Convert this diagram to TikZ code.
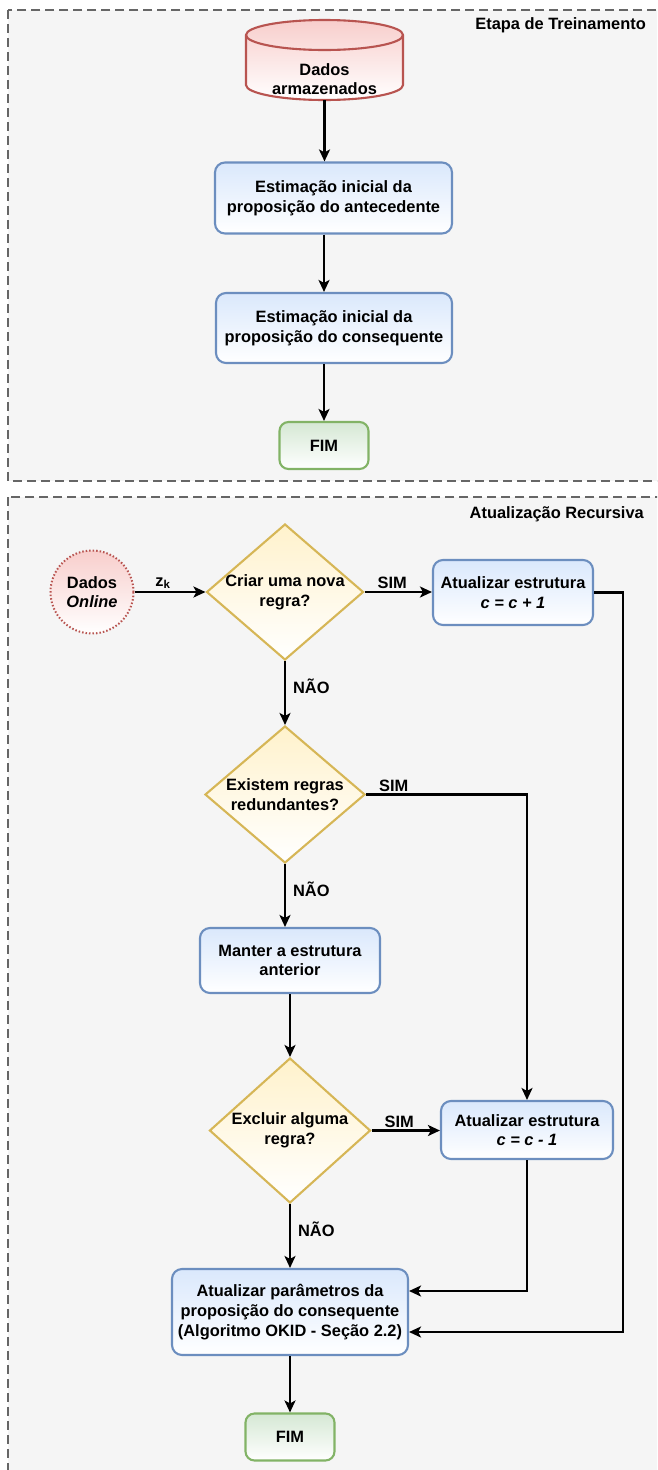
\documentclass[tikz,border=0pt]{standalone}
\usepackage{fontspec}
\setmainfont{Liberation Sans}
\usetikzlibrary{arrows.meta, shapes.geometric, calc}

\definecolor{azulf}{HTML}{DAE8FC}
\definecolor{azulb}{HTML}{6C8EBF}
\definecolor{verdef}{HTML}{D5E8D4}
\definecolor{verdeb}{HTML}{82B366}
\definecolor{amarf}{HTML}{FFF2CC}
\definecolor{amarb}{HTML}{D6B656}
\definecolor{vermf}{HTML}{F8CECC}
\definecolor{vermb}{HTML}{B85450}
\definecolor{fundo}{HTML}{F5F5F5}
\definecolor{borda}{HTML}{666666}

\tikzset{
  texto/.style={font=\fontsize{16.4}{19.7}\selectfont\bfseries, align=center},
  caixa/.style={texto, rectangle, rounded corners=10pt, draw=azulb, line width=2.1pt, top color=azulf, bottom color=white},
  fim/.style={texto, rectangle, rounded corners=9pt, draw=verdeb, line width=2.1pt, top color=verdef, bottom color=white, minimum width=89pt, minimum height=47pt},
  decisao/.style={diamond, draw=amarb, line width=2.1pt, top color=amarf, bottom color=white, inner sep=0pt},
  seta/.style={-{Stealth[length=12pt,width=11pt,inset=3pt]}, line width=2.3pt},
  etapa/.style={draw=borda, fill=fundo, line width=2pt, dash pattern=on 9pt off 5pt},
  rotulo/.style={texto, inner sep=2pt},
}

\begin{document}
\begin{tikzpicture}[x=1pt,y=-1pt]
    \clip (0,0) rectangle (657,1470);
    % etapas
    \path[etapa] (8,10) rectangle (680,481);
    \path[etapa] (8,497) rectangle (680,1490);
    \node[rotulo, anchor=east] (treino) at (648,25) {Etapa de Treinamento};
    \node[rotulo, anchor=east] (recursiva) at (646,514) {Atualização Recursiva};

    % treinamento
    \path[draw=vermb, line width=2.1pt, top color=vermf, bottom color=white]
        (246,35) -- (246,85) arc[start angle=180, end angle=360, x radius=78.5pt, y radius=15pt]
        -- (403,35) arc[start angle=0, end angle=180, x radius=78.5pt, y radius=15pt] -- cycle;
    \draw[vermb, line width=2.1pt] (246,35) arc[start angle=180, end angle=360, x radius=78.5pt, y radius=15pt];
    \node[texto] (dados) at (324.5,79) {Dados\\armazenados};
    \coordinate (dadosbase) at (324.5,100);

    \node[caixa, minimum width=237pt, minimum height=71pt] (antec) at (333.5,198) {Estimação inicial da\\proposição do antecedente};
    \node[caixa, minimum width=236pt, minimum height=70pt] (conseq) at (334,328) {Estimação inicial da\\proposição do consequente};
    \node[fim] (fimtreino) at (324,445.5) {FIM};

    \draw[seta] (dadosbase) -- (dadosbase |- antec.north);
    \draw[seta] (fimtreino |- antec.south) -- (fimtreino |- conseq.north);
    \draw[seta] (fimtreino |- conseq.south) -- (fimtreino.north);

    % atualizacao recursiva
    \node[texto, circle, draw=vermb, line width=2pt, dash pattern=on 1.5pt off 2pt, top color=vermf, bottom color=white, minimum size=83pt] (online) at (92,592) {Dados\\\textit{Online}};
    \node[decisao, minimum width=157pt, minimum height=136pt] (novaregra) at (285,592) {};
    \node[texto] (novaregratxt) at (novaregra) {Criar uma nova\\regra?};
    \node[caixa, minimum width=160pt, minimum height=65pt] (cmais) at (513,592.5) {Atualizar estrutura\\\textit{c = c + 1}};
    \node[decisao, minimum width=160pt, minimum height=137pt] (redund) at (285,794.5) {};
    \node[texto] (redundtxt) at (redund) {Existem regras\\redundantes?};
    \node[caixa, minimum width=180pt, minimum height=65pt] (manter) at (290,960.5) {Manter a estrutura\\anterior};
    \node[decisao, minimum width=161pt, minimum height=145pt] (excluir) at (290,1130.5) {};
    \node[texto] (excluirtxt) at (excluir) {Excluir alguma\\regra?};
    \node[caixa, minimum width=172pt, minimum height=58pt] (cmenos) at (527,1130) {Atualizar estrutura\\\textit{c = c - 1}};
    \node[caixa, minimum width=236pt, minimum height=86pt] (params) at (290,1312) {Atualizar parâmetros da\\proposição do consequente\\(Algoritmo OKID - Seção 2.2)};
    \node[fim] (fimrec) at (290,1437) {FIM};

    \draw[seta] (online.east) -- (novaregra.west) node[rotulo, pos=0.4, above] (zk) {z\textsubscript{k}};
    \draw[seta] (novaregra.east) -- (novaregra.east -| cmais.west) node[rotulo, at start, above right, xshift=10pt] (sim1) {SIM};
    \coordinate (desvio) at (623,1332);
    \draw[seta] (cmais.east) -| (desvio) -- (desvio -| params.east);
    \draw[seta] (novaregra.south) -- (redund.north) node[rotulo, pos=0.4, right, xshift=5pt] (nao1) {NÃO};
    \draw[seta] (redund.east) -| (cmenos.north) node[rotulo, at start, above right, xshift=10pt] (sim2) {SIM};
    \draw[seta] (redund.south) -- (redund.south |- manter.north) node[rotulo, pos=0.4, right, xshift=5pt] (nao2) {NÃO};
    \draw[seta] (manter.south) -- (excluir.north);
    \draw[seta] (excluir.east) -- (excluir.east -| cmenos.west) node[rotulo, at start, above right, xshift=10pt] (sim3) {SIM};
    \draw[seta] (cmenos.south) |- ($(params.east)+(0,-21)$);
    \draw[seta] (excluir.south) -- (params.north) node[rotulo, pos=0.4, right, xshift=5pt] (nao3) {NÃO};
    \draw[seta] (params.south) -- (fimrec.north);
\end{tikzpicture}
\end{document}
